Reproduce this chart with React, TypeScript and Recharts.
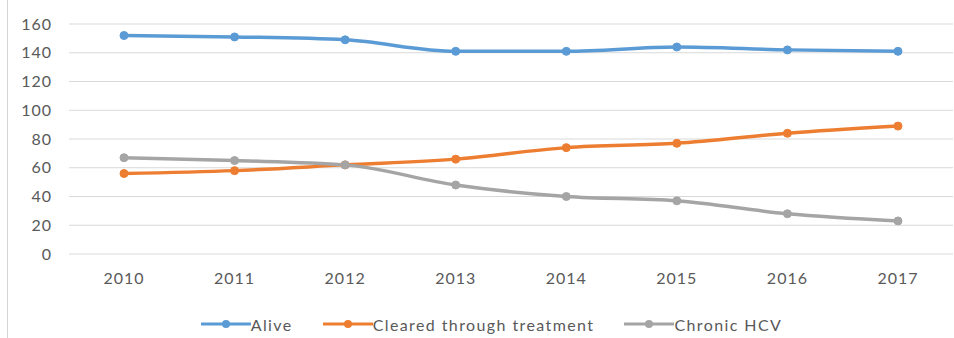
import { LineChart, Line, XAxis, YAxis, CartesianGrid, Legend } from 'recharts'

// HCV cohort outcomes by year, 2010 – 2017

const years = ['2010', '2011', '2012', '2013', '2014', '2015', '2016', '2017']
const alive = [152, 151, 149, 141, 141, 144, 142, 141]
const cleared = [56, 58, 62, 66, 74, 77, 84, 89]
const chronic = [67, 65, 62, 48, 40, 37, 28, 23]
const yTicks = [0, 20, 40, 60, 80, 100, 120, 140, 160]

const series = [
  { key: 'alive', name: 'Alive', color: '#5B9BD5' },
  { key: 'cleared', name: 'Cleared through treatment', color: '#ED7D31' },
  { key: 'chronic', name: 'Chronic HCV', color: '#A5A5A5' },
]

const data = years.map((year, i) => ({
  year,
  alive: alive[i],
  cleared: cleared[i],
  chronic: chronic[i],
}))

const FONT = 'Lato, Carlito, Calibri, sans-serif'
const tickStyle = { fill: '#595959', fontSize: 16, fontFamily: FONT, letterSpacing: 1 }

// Excel-style legend: short line with a marker in the middle
function ExcelLegend() {
  return (
    <div
      style={{
        display: 'flex',
        justifyContent: 'center',
        alignItems: 'center',
        gap: 30,
        height: 24,
        paddingLeft: 30,
        fontFamily: FONT,
        fontSize: 16,
        letterSpacing: 1.4,
        color: '#595959',
      }}
    >
      {series.map((s) => (
        <div key={s.key} style={{ display: 'flex', alignItems: 'center' }}>
          <svg width={50} height={12}>
            <line x1={0} y1={6} x2={50} y2={6} stroke={s.color} strokeWidth={3} />
            <circle cx={25} cy={6} r={4} fill={s.color} />
          </svg>
          <span>{s.name}</span>
        </div>
      ))}
    </div>
  )
}

export default function App() {
  return (
    <div
      style={{
        position: 'fixed',
        top: 0,
        left: 0,
        width: 954,
        height: 338,
        background: '#fff',
      }}
    >
      <div
        style={{
          position: 'absolute',
          left: 7,
          top: 0,
          width: 1,
          height: 338,
          background: '#d4d4d4',
        }}
      />
      <LineChart
        width={954}
        height={338}
        data={data}
        margin={{ top: 24, right: 1, left: 0, bottom: 2 }}
      >
        <CartesianGrid stroke="#d9d9d9" strokeWidth={1.2} vertical={false} />

        <XAxis
          dataKey="year"
          axisLine={false}
          tickLine={false}
          tickSize={0}
          tickMargin={19}
          height={58}
          padding={{ left: 55, right: 55 }}
          tick={tickStyle}
        />
        <YAxis
          domain={[0, 160]}
          ticks={yTicks}
          axisLine={false}
          tickLine={false}
          tickSize={0}
          tickMargin={17}
          width={69}
          tick={tickStyle}
        />

        <Legend verticalAlign="bottom" height={24} content={<ExcelLegend />} />

        {series.map((s) => (
          <Line
            key={s.key}
            type="monotone"
            dataKey={s.key}
            name={s.name}
            stroke={s.color}
            strokeWidth={3.5}
            dot={{ fill: s.color, stroke: s.color, r: 4, strokeWidth: 1 }}
            isAnimationActive={false}
          />
        ))}
      </LineChart>
    </div>
  )
}
